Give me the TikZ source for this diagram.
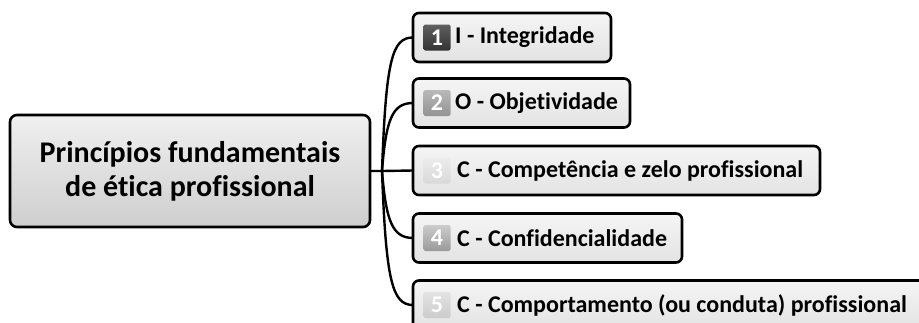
\documentclass[tikz,border=0pt]{standalone}
\usepackage{fontspec}
\setmainfont{Carlito}[Ligatures=NoCommon]
\begin{document}
\begin{tikzpicture}[x=1pt,y=-1pt,
  mainbox/.style={draw=black,line width=2.6pt,rounded corners=7pt,top color=gray!12,bottom color=gray!38,inner sep=0pt,outer sep=0pt},
  childbox/.style={draw=black,line width=2.6pt,rounded corners=6pt,top color=gray!8,bottom color=gray!22,inner sep=0pt,outer sep=0pt,minimum height=49pt,anchor=west},
  label/.style={font=\bfseries\fontsize{24}{26}\selectfont,anchor=west,inner sep=0pt},
  icon/.style={rounded corners=2pt,minimum width=27pt,minimum height=26pt,inner sep=0pt,text=white,font=\bfseries\fontsize{24}{24}\selectfont},
  link/.style={line width=2.4pt,black}]
\useasboundingbox (0,0) rectangle (919,322);
\clip (0,0) rectangle (919,322);
% central
\node[mainbox,minimum width=360pt,minimum height=112pt,align=center,font=\bfseries\fontsize{30}{34}\selectfont] (c) at (190,171) {Princípios fundamentais\\de ética profissional};
% children
\node[childbox,minimum width=198pt] (b1) at (413,37.5) {};
\node[childbox,minimum width=217pt] (b2) at (413,103) {};
\node[childbox,minimum width=407pt] (b3) at (413,170.5) {};
\node[childbox,minimum width=269pt] (b4) at (413,238) {};
\node[childbox,minimum width=517pt] (b5) at (413,305) {};
% icons
\node[icon,top color=gray!75!black,bottom color=black!80] (i1) at ([xshift=24pt]b1.west) {1};
\node[icon,top color=gray!55,bottom color=gray!85] (i2) at ([xshift=24pt]b2.west) {2};
\node[icon,top color=gray!15,bottom color=gray!30] (i3) at ([xshift=24pt]b3.west) {3};
\node[icon,top color=gray!40,bottom color=gray!80] (i4) at ([xshift=24pt]b4.west) {4};
\node[icon,top color=gray!22,bottom color=gray!40] (i5) at ([xshift=24pt]b5.west) {5};
% labels
\node[label] (t1) at ([xshift=42pt]b1.west) {I - Integridade};
\node[label] (t2) at ([xshift=42pt]b2.west) {O - Objetividade};
\node[label] (t3) at ([xshift=44pt]b3.west) {C - Competência e zelo profissional};
\node[label] (t4) at ([xshift=44pt]b4.west) {C - Confidencialidade};
\node[label] (t5) at ([xshift=44pt]b5.west) {C - Comportamento (ou conduta) profissional};
% connectors
\coordinate (br) at (382,171);
\draw[link] (c.east) -- (br) -- (b3.west);
\draw[link] (br) .. controls (386,60) and (392,37.5) .. (b1.west);
\draw[link] (br) .. controls (386,120) and (392,103) .. (b2.west);
\draw[link] (br) .. controls (386,220) and (392,238) .. (b4.west);
\draw[link] (br) .. controls (386,280) and (392,305) .. (b5.west);
\end{tikzpicture}
\end{document}
